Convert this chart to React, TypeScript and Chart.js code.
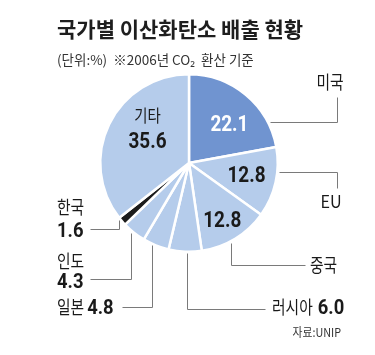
import React, { useEffect, useRef } from "react";
import { Chart, registerables } from "chart.js";

Chart.register(...registerables);

const categories = ["미국", "EU", "중국", "러시아", "일본", "인도", "한국", "기타"];
const shares = [22.1, 12.8, 12.8, 6.0, 4.8, 4.3, 1.6, 35.6];
const valueLabels = ["22.1", "12.8", "12.8", "6.0", "4.8", "4.3", "1.6", "35.6"];
const sliceColors = ["#7094d0", "#b5cceb", "#b5cceb", "#b5cceb", "#b5cceb", "#b5cceb", "#1c1c1c", "#b5cceb"];

const TITLE = "국가별 이산화탄소 배출 현황";
const SUBTITLE = "(단위:%)  ※2006년 CO₂  환산 기준";
const SOURCE = "자료:UNIP";

const KR = '"Noto Sans CJK KR", "Noto Sans", sans-serif';
const NUM = 'Roboto, "Liberation Sans", sans-serif';

function drawText(
  ctx: CanvasRenderingContext2D,
  text: string,
  x: number,
  y: number,
  font: string,
  color: string,
  align: CanvasTextAlign,
  baseline: CanvasTextBaseline,
  sx = 1
) {
  ctx.save();
  ctx.font = font;
  ctx.fillStyle = color;
  ctx.textAlign = align;
  ctx.textBaseline = baseline;
  ctx.translate(x, y);
  ctx.scale(sx, 1);
  ctx.fillText(text, 0, 0);
  ctx.restore();
}

function textWidth(ctx: CanvasRenderingContext2D, text: string, font: string, sx = 1) {
  ctx.save();
  ctx.font = font;
  const w = ctx.measureText(text).width * sx;
  ctx.restore();
  return w;
}

const labelPlugin = {
  id: "labelPlugin",
  afterDraw(chart: any) {
    const ctx: CanvasRenderingContext2D = chart.ctx;
    const arcs = chart.getDatasetMeta(0).data;
    const pointAt = (i: number, frac: number, rf: number) => {
      const a = arcs[i];
      const ang = a.startAngle + (a.endAngle - a.startAngle) * frac;
      const r = a.outerRadius * rf;
      return { x: a.x + Math.cos(ang) * r, y: a.y + Math.sin(ang) * r };
    };

    // Title & subtitle
    drawText(ctx, TITLE, 57, 29, `bold 21px ${KR}`, "#1e1e1e", "left", "middle", 1);
    drawText(ctx, SUBTITLE, 57, 60, `13.5px ${KR}`, "#333", "left", "middle", 1);

    const numFontBig = `bold 22px ${NUM}`;
    const numSx = 0.86;
    // Inside labels
    const p0 = pointAt(0, 0.57, 0.64);
    drawText(ctx, valueLabels[0], p0.x, p0.y + 8, numFontBig, "#ffffff", "center", "alphabetic", numSx);
    const p1 = pointAt(1, 0.46, 0.66);
    drawText(ctx, valueLabels[1], p1.x, p1.y + 8, numFontBig, "#1a1a1a", "center", "alphabetic", numSx);
    const p2 = pointAt(2, 0.51, 0.73);
    drawText(ctx, valueLabels[2], p2.x, p2.y + 8, numFontBig, "#1a1a1a", "center", "alphabetic", numSx);
    const p7 = pointAt(7, 0.61, 0.61);
    drawText(ctx, categories[7], p7.x, p7.y - 13, `17px ${KR}`, "#1a1a1a", "center", "middle", 0.85);
    drawText(ctx, valueLabels[7], p7.x, p7.y + 20, numFontBig, "#1a1a1a", "center", "alphabetic", numSx);

    // Leader lines
    ctx.save();
    ctx.strokeStyle = "#7a7a7a";
    ctx.lineWidth = 1;
    const poly = (pts: { x: number; y: number }[]) => {
      ctx.beginPath();
      ctx.moveTo(Math.round(pts[0].x) + 0.5, Math.round(pts[0].y) + 0.5);
      for (let k = 1; k < pts.length; k++) ctx.lineTo(Math.round(pts[k].x) + 0.5, Math.round(pts[k].y) + 0.5);
      ctx.stroke();
    };
    const a0 = pointAt(0, 0.79, 1.02);
    poly([a0, { x: 337, y: a0.y }, { x: 337, y: 97 }]);
    const a1 = pointAt(1, 0.35, 1.02);
    poly([a1, { x: 337, y: a1.y }, { x: 337, y: 188 }]);
    const a2 = pointAt(2, 0.58, 1.02);
    poly([a2, { x: a2.x, y: 265 }, { x: 305, y: 265 }]);
    const a3 = pointAt(3, 0.44, 1.01);
    poly([a3, { x: a3.x, y: 309 }, { x: 265, y: 309 }]);
    const a4 = pointAt(4, 0.64, 1.02);
    poly([a4, { x: a4.x, y: 307 }, { x: 122, y: 307 }]);
    const a5 = pointAt(5, 0.58, 1.02);
    poly([a5, { x: a5.x, y: 279 }, { x: 90, y: 279 }]);
    const a6 = pointAt(6, 0.85, 1.02);
    poly([a6, { x: a6.x, y: 229 }, { x: 90, y: 229 }]);
    ctx.restore();

    const krFont = `18px ${KR}`;
    const krSx = 0.82;
    const numFont = `bold 20px ${NUM}`;
    const nSx = 0.92;
    const dark = "#1a1a1a";

    drawText(ctx, categories[0], 330, 82, krFont, dark, "center", "middle", krSx);
    drawText(ctx, categories[1], 331, 202, `17px ${KR}`, dark, "center", "middle", 0.95);
    drawText(ctx, categories[2], 310, 265, krFont, dark, "left", "middle", krSx);

    drawText(ctx, categories[3], 272, 307, krFont, dark, "left", "middle", krSx);
    const wRu = textWidth(ctx, categories[3], krFont, krSx);
    drawText(ctx, valueLabels[3], 272 + wRu + 5, 314, numFont, dark, "left", "alphabetic", nSx);

    drawText(ctx, categories[4], 57, 307, krFont, dark, "left", "middle", krSx);
    const wJp = textWidth(ctx, categories[4], krFont, krSx);
    drawText(ctx, valueLabels[4], 57 + wJp + 3, 314, numFont, dark, "left", "alphabetic", nSx);

    drawText(ctx, categories[5], 57, 261, krFont, dark, "left", "middle", krSx);
    drawText(ctx, valueLabels[5], 57, 288, numFont, dark, "left", "alphabetic", nSx);

    drawText(ctx, categories[6], 57, 207, krFont, dark, "left", "middle", krSx);
    drawText(ctx, valueLabels[6], 57, 237, numFont, dark, "left", "alphabetic", nSx);

    drawText(ctx, SOURCE, 341, 332, `12px ${KR}`, "#333", "right", "middle", 0.9);
  },
};

export default function App() {
  const ref = useRef<HTMLCanvasElement | null>(null);
  useEffect(() => {
    if (!ref.current) return;
    const chart = new Chart(ref.current, {
      type: "pie",
      data: {
        labels: categories,
        datasets: [
          {
            data: shares,
            backgroundColor: sliceColors,
            borderColor: "#ffffff",
            borderWidth: 2.5,
            hoverOffset: 0,
            offset: 0,
          },
        ],
      },
      options: {
        animation: false,
        responsive: true,
        maintainAspectRatio: false,
        layout: { padding: { left: 99, right: 96, top: 73, bottom: 102 } },
        plugins: {
          legend: { display: false },
          tooltip: { enabled: false },
          title: { display: false },
        },
      },
      plugins: [labelPlugin],
    });
    return () => chart.destroy();
  }, []);
  return (
    <div style={{ position: "absolute", left: 0, top: 0, width: 375, height: 355, background: "#fff" }}>
      <canvas ref={ref} />
    </div>
  );
}
